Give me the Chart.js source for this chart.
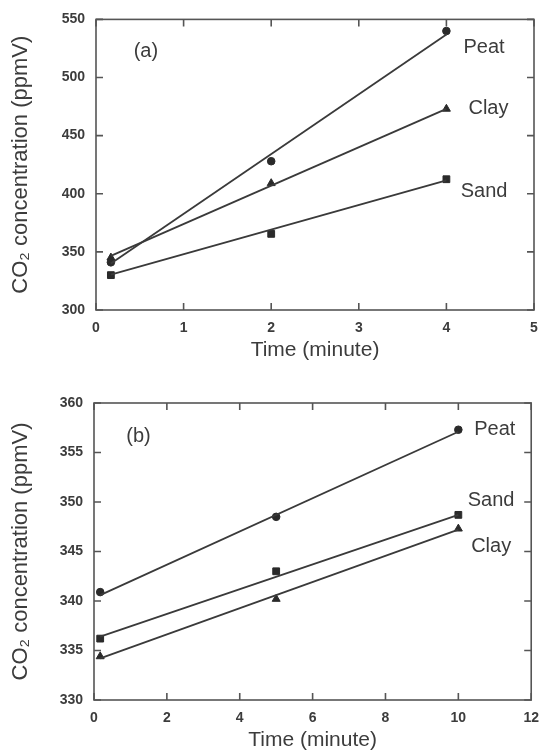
<!DOCTYPE html>
<html>
<head>
<meta charset="utf-8">
<title>CO2 concentration vs time</title>
<script src="https://cdn.jsdelivr.net/npm/chart.js@4.4.1/dist/chart.umd.min.js"></script>
<style>
  body { margin: 0; background: #fff; }
  #wrap { position: relative; width: 549px; height: 756px; }
  canvas { position: absolute; left: 0; }
  #chartA { top: 0; }
  #chartB { top: 378px; }
</style>
</head>
<body>
<div id="wrap">
  <canvas id="chartA" width="549" height="378"></canvas>
  <canvas id="chartB" width="549" height="378"></canvas>
</div>
<script>
'use strict';

// panel (a) - measured points
let timeA = [0.17, 2, 4];
let peatA = [341, 428, 540];
let clayA = [345, 409, 473];
let sandA = [330, 365.5, 412.5];

// panel (a) - fitted lines, end points
let fitTimeA = [0.17, 4];
let peatFitA = [340, 537];
let clayFitA = [346.5, 473];
let sandFitA = [330.5, 411.5];

let xTicksA = [0, 1, 2, 3, 4, 5];
let yTicksA = [300, 350, 400, 450, 500, 550];

// panel (b) - measured points
let timeB = [0.17, 5, 10];
let peatB = [340.9, 348.5, 357.3];
let clayB = [334.4, 340.2, 347.3];
let sandB = [336.2, 343, 348.7];

// panel (b) - fitted lines
let fitTimeB = [0.17, 10];
let peatFitB = [340.6, 357.1];
let clayFitB = [334.2, 347.2];
let sandFitB = [336.4, 348.7];

let xTicksB = [0, 2, 4, 6, 8, 10, 12];
let yTicksB = [330, 335, 340, 345, 350, 355, 360];

let soils = ['Peat', 'Clay', 'Sand'];
let markers = ['circle', 'triangle', 'rect'];
let markerSize = [3.8, 4.6, 4.8];

let xTitle = 'Time (minute)';
let yTitle = 'CO\u2082 concentration (ppmV)';

let ink = '#3a3a3a';
let textColor = '#3c3c3c';

Chart.defaults.font.family = '"Liberation Sans", Arial, Helvetica, sans-serif';


function toPoints(xs, ys) {
    return xs.map((x, i) => ({ x: x, y: ys[i] }));
}


// box frame, inward tick marks and the text labels inside the plot
let framePlugin = {
    id: 'frame',
    afterDatasetsDraw(chart, args, opts) {
        let ctx = chart.ctx;
        let a = chart.chartArea;
        let xs = chart.scales.x;
        let ys = chart.scales.y;
        ctx.save();
        ctx.strokeStyle = '#555';
        ctx.lineWidth = 1.6;
        ctx.strokeRect(a.left, a.top, a.right - a.left, a.bottom - a.top);

        ctx.beginPath();
        xs.ticks.forEach(t => {
            let px = xs.getPixelForValue(t.value);
            ctx.moveTo(px, a.bottom);
            ctx.lineTo(px, a.bottom - 7);
            ctx.moveTo(px, a.top);
            ctx.lineTo(px, a.top + 7);
        });
        ys.ticks.forEach(t => {
            let py = ys.getPixelForValue(t.value);
            ctx.moveTo(a.left, py);
            ctx.lineTo(a.left + 7, py);
            ctx.moveTo(a.right, py);
            ctx.lineTo(a.right - 7, py);
        });
        ctx.stroke();

        ctx.fillStyle = textColor;
        ctx.font = '20px "Liberation Sans", Arial, sans-serif';
        ctx.textAlign = 'center';
        ctx.textBaseline = 'middle';
        opts.labels.forEach(l => {
            ctx.fillText(l.text, xs.getPixelForValue(l.x), ys.getPixelForValue(l.y));
        });
        ctx.restore();
    }
};


function drawPanel(canvasId, p) {
    let datasets = [];

    for (let i = 0; i < soils.length; i++) {
        datasets.push({
            label: soils[i] + ' fit',
            data: toPoints(p.fitTime, p.fits[i]),
            borderColor: ink,
            borderWidth: 1.8,
            pointRadius: 0,
            fill: false
        });
        datasets.push({
            label: soils[i],
            data: toPoints(p.time, p.values[i]),
            showLine: false,
            pointStyle: markers[i],
            pointRadius: markerSize[i],
            pointBackgroundColor: '#2a2a2a',
            pointBorderColor: '#2a2a2a',
            pointBorderWidth: 1
        });
    }

    let tickFont = { size: 14, weight: 'bold' };

    new Chart(document.getElementById(canvasId), {
        type: 'line',
        data: { datasets: datasets },
        options: {
            responsive: false,
            animation: false,
            clip: false,
            layout: { padding: { top: p.top, right: p.right, left: 0, bottom: 0 } },
            plugins: {
                legend: { display: false },
                tooltip: { enabled: false },
                frame: { labels: p.labels }
            },
            scales: {
                x: {
                    type: 'linear',
                    min: p.xTicks[0],
                    max: p.xTicks[p.xTicks.length - 1],
                    afterBuildTicks: s => { s.ticks = p.xTicks.map(v => ({ value: v })); },
                    afterFit: s => { s.height = p.xHeight; },
                    grid: { display: false, drawTicks: false },
                    border: { display: false },
                    ticks: { font: tickFont, color: textColor, padding: 10 },
                    title: {
                        display: true,
                        text: xTitle,
                        font: { size: 21 },
                        color: textColor,
                        padding: { top: 0, bottom: p.xTitlePad }
                    }
                },
                y: {
                    type: 'linear',
                    min: p.yTicks[0],
                    max: p.yTicks[p.yTicks.length - 1],
                    afterBuildTicks: s => { s.ticks = p.yTicks.map(v => ({ value: v })); },
                    afterFit: s => { s.width = p.yWidth; },
                    grid: { display: false, drawTicks: false },
                    border: { display: false },
                    ticks: { font: tickFont, color: textColor, padding: 11 },
                    title: {
                        display: true,
                        text: yTitle,
                        font: { size: 22 },
                        color: textColor,
                        padding: { top: 8, bottom: 0 }
                    }
                }
            }
        },
        plugins: [framePlugin]
    });
}


drawPanel('chartA', {
    time: timeA,
    values: [peatA, clayA, sandA],
    fitTime: fitTimeA,
    fits: [peatFitA, clayFitA, sandFitA],
    xTicks: xTicksA,
    yTicks: yTicksA,
    top: 15,
    right: 15,
    yWidth: 96,
    xHeight: 68,
    xTitlePad: 15,
    labels: [
        { text: '(a)', x: 0.57, y: 522 },
        { text: 'Peat', x: 4.43, y: 526 },
        { text: 'Clay', x: 4.48, y: 473 },
        { text: 'Sand', x: 4.43, y: 402 }
    ]
});

drawPanel('chartB', {
    time: timeB,
    values: [peatB, clayB, sandB],
    fitTime: fitTimeB,
    fits: [peatFitB, clayFitB, sandFitB],
    xTicks: xTicksB,
    yTicks: yTicksB,
    top: 25,
    right: 14,
    yWidth: 94,
    xHeight: 56,
    xTitlePad: 3,
    labels: [
        { text: '(b)', x: 1.22, y: 356.6 },
        { text: 'Peat', x: 11.0, y: 357.3 },
        { text: 'Sand', x: 10.9, y: 350.2 },
        { text: 'Clay', x: 10.9, y: 345.5 }
    ]
});
</script>
</body>
</html>
